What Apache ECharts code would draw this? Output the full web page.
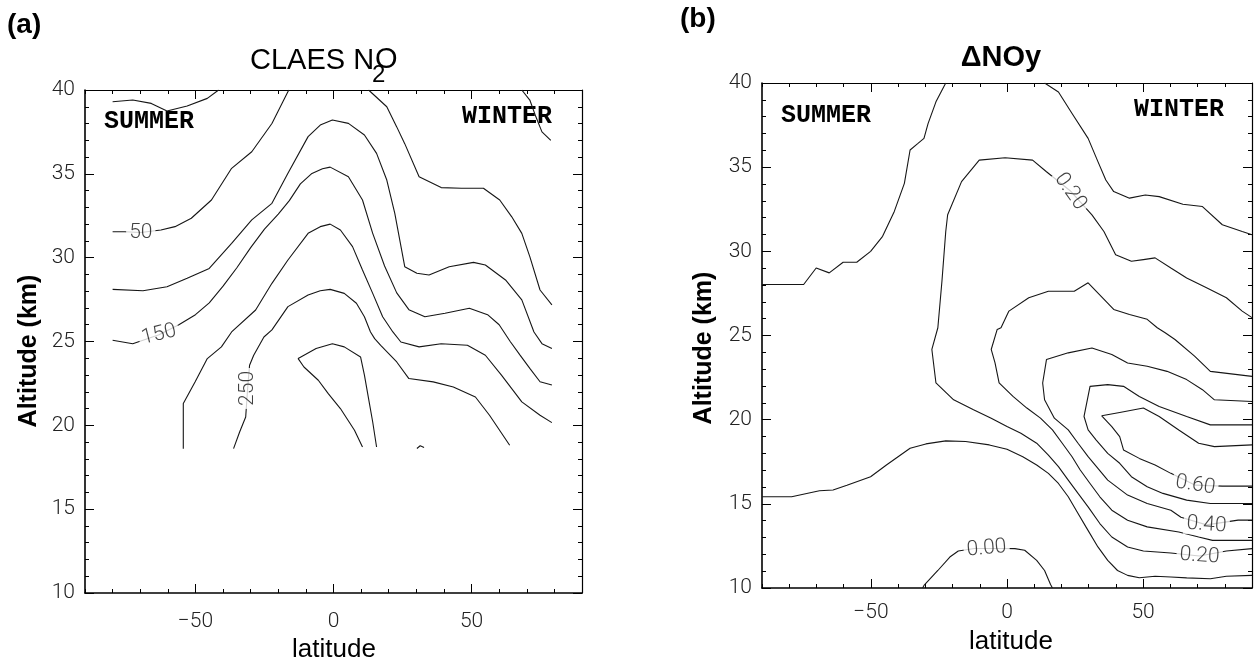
<!DOCTYPE html>
<html>
<head>
<meta charset="utf-8">
<script src="https://cdn.jsdelivr.net/npm/echarts@6/dist/echarts.min.js"></script>
<style>
html,body{margin:0;padding:0;background:#fff;}
#c{width:1259px;height:664px;}
</style>
</head>
<body>
<div id="c"></div>
<script>
// ---------- tick values ----------
const latMajor = [-50, 0, 50];
const altMajor = [10, 15, 20, 25, 30, 35, 40];

// ---------- panel (a): CLAES N2O contours [latitude, altitude km] ----------
const n2oTopLeft = [[-80,39.3],[-72.7,39.4],[-66,39.2],[-60.3,38.75],[-53,39.05],[-45.7,39.5],[-41.6,40]];
const n2oTopRight = [[68.2,40],[71.1,39.4],[73.3,38.4],[75.5,37.5],[78.7,37.0]];
const n2o50a = [[-80,31.55],[-75.6,31.55],[-69.8,31.5],[-62.5,31.65],[-57.4,31.85],[-51.5,32.35],[-44.2,33.44],[-36.9,35.33],[-29.6,36.32],[-22.3,38.0],[-16.2,40]];
const n2o50b = [[12.7,40],[19.3,39.0],[22.9,37.8],[25.8,36.8],[31.0,34.83],[39.0,34.18],[46.3,34.14],[54.3,34.14],[60.2,33.44],[64.5,32.45],[68.2,31.45],[71.1,30.06],[74.8,28.07],[79.1,27.18]];
const n2o100 = [[-80,28.11],[-69,28.03],[-60.3,28.27],[-53,28.77],[-45,29.36],[-36.9,30.85],[-29.6,32.25],[-22.3,33.24],[-16.5,35.03],[-9.2,37.22],[-4.8,37.91],[-0.4,38.21],[5.4,38.01],[11.2,37.32],[15.6,36.22],[19.3,34.63],[22.2,32.64],[25.8,29.46],[30.2,29.07],[34.6,28.97],[41.9,29.46],[50.7,29.72],[55.0,29.56],[62.3,28.67],[68.2,27.48],[72.6,25.57],[75.5,24.87],[79.1,24.58]];
const n2o150 = [[-80,25.07],[-72.7,24.87],[-63.2,25.4],[-56,26.0],[-50,26.6],[-45,27.3],[-40,28.3],[-35,29.4],[-30,30.6],[-25,31.7],[-20,32.6],[-16,33.4],[-12,34.4],[-8,35.0],[-4,35.3],[-1.2,35.4],[5.4,34.83],[10.5,33.44],[14.2,31.45],[18.5,29.5],[22.9,27.9],[27.3,26.9],[33.1,26.48],[40.4,26.68],[49.2,26.98],[55.8,26.6],[60,26.0],[64,25.0],[67.5,24.2],[71.1,23.4],[74.8,22.6],[79.1,22.4]];
const n2o200 = [[-54.4,18.61],[-54.4,21.3],[-50.1,22.6],[-45.7,23.98],[-40.6,24.68],[-36.9,25.57],[-28.2,26.88],[-22.3,28.47],[-16.5,29.86],[-9.2,31.45],[-4.8,31.85],[-1.2,32.0],[2.5,31.65],[6.9,30.66],[10.5,29.26],[14.2,27.87],[17.8,26.48],[21.5,25.57],[24.4,24.97],[31.0,24.68],[39.0,24.87],[48.5,24.78],[55.0,24.18],[60.9,22.98],[68.2,21.4],[74.8,20.6],[79.1,20.16]];
const n2o250 = [[-36.2,18.61],[-34,19.6],[-31.8,20.5],[-31.1,22.2],[-30.4,23.58],[-28.9,24.18],[-25.2,25.27],[-22.3,25.69],[-16.5,27.08],[-9.2,27.77],[-4.8,28.03],[-1.2,28.11],[3.9,27.87],[8.3,27.28],[11.2,26.48],[13.4,25.57],[14.9,25.17],[17.1,24.77],[22.9,23.78],[27.3,22.79],[36.1,22.59],[43.4,22.29],[51.4,21.69],[56.5,20.6],[63.8,18.81]];
const n2o300 = [[10.5,18.71],[7.6,19.71],[2.5,21.0],[-1.9,21.89],[-5.5,22.69],[-10.7,23.48],[-12.8,23.98],[-6.3,24.58],[-0.4,24.87],[3.9,24.68],[9.8,24.08],[11.2,22.99],[12.7,21.59],[14.2,20.2],[15.6,18.71]];
const n2oFragment = [[30.2,18.62],[31.4,18.78],[32.8,18.68]];
const n2oLabels = [['50',-69.8,31.5],['150',-63.2,25.4],['250',-31.1,22.2]];

// ---------- panel (b): delta NOy contours ----------
const noy000 = [[-31,10.0],[-30.5,10.15],[-25.4,11.04],[-21.0,11.84],[-17.9,12.2],[-12,12.35],[-7.5,12.35],[-2,12.35],[2.9,12.34],[6.5,12.24],[10.9,11.64],[13.8,11.04],[16.0,10.21],[16.7,10.0]];
const noy010up = [[-90,28.03],[-74.7,28.03],[-70.1,29.01],[-65.3,28.72],[-60.2,29.35],[-55.2,29.35],[-50.1,30.0],[-45.7,30.89],[-41.4,32.37],[-37.7,34.04],[-35.6,36.02],[-32.7,36.41],[-30.5,36.71],[-29.0,37.59],[-26.1,38.88],[-22.5,40]];
const noy010upR = [[13.8,40],[18.9,39.47],[23.9,38.19],[29.8,36.71],[33.4,35.33],[36.3,34.24],[39.2,33.55],[45.0,33.16],[50.8,33.35],[55.9,33.25],[64.6,32.8],[71.8,32.66],[79.1,31.58],[86.4,31.18],[90,30.99]];
const noy010low = [[-90,15.42],[-79.1,15.42],[-68.9,15.78],[-63.9,15.82],[-58.8,16.11],[-50.1,16.61],[-44.3,17.31],[-35.6,18.3],[-29.8,18.56],[-22.5,18.74],[-15.2,18.7],[-6.5,18.5],[0,18.24],[5.8,17.8],[10.9,17.31],[15.2,16.81],[18.9,16.21],[22.5,15.42],[25.4,14.62],[29.0,13.63],[33.4,12.44],[37.0,11.64],[40.6,11.04],[44.3,10.75],[48.6,10.61],[54.4,10.7],[60.2,10.65],[66.0,10.6],[74.7,10.55],[80.6,10.7],[90,10.75]];
const noy020 = [[90,26.06],[86.4,26.45],[80.6,27.24],[73.3,27.83],[66.0,28.42],[60.2,29.01],[54.4,29.61],[50.1,29.51],[45.7,29.41],[39.9,29.80],[35.6,31.18],[31.2,32.17],[23.2,33.6],[14.5,34.73],[9.4,35.42],[-0.7,35.56],[-10.2,35.42],[-16.7,34.14],[-21.8,32.17],[-22.5,31.18],[-23.9,28.22],[-25.4,25.46],[-27.6,24.17],[-26.1,22.18],[-19.6,21.18],[-12.3,20.59],[-5.8,20.09],[0,19.59],[5.1,19.19],[10.9,18.6],[15.2,17.9],[18.9,17.21],[22.5,16.41],[26.1,15.62],[29.8,14.82],[34.1,13.83],[38.5,13.03],[44.3,12.44],[50.1,12.2],[60.2,12.08],[70.7,11.9],[80.6,12.2],[90,12.34]];
const noy030 = [[90,12.83],[75.5,12.83],[70.4,13.03],[63.1,13.33],[51.5,13.63],[44.3,14.03],[38.5,14.62],[34.1,15.42],[30.5,16.21],[26.9,17.01],[23.9,17.8],[20.3,18.6],[16.7,19.39],[12.3,20.09],[7.3,20.69],[2.2,21.38],[-2.9,22.18],[-4.4,23.37],[-5.8,24.17],[-3.6,25.36],[-2.2,25.46],[0.7,26.45],[8.0,27.24],[15.2,27.63],[24.7,27.63],[29.8,28.13],[39.2,26.55],[45.0,26.25],[51.5,25.96],[55.2,25.46],[58.1,25.16],[61.7,24.76],[68.9,23.77],[74.7,22.87],[90,22.57]];
const noy040 = [[90,21.08],[76.2,21.18],[71.8,21.78],[66.0,22.38],[58.8,22.87],[51.5,23.17],[44.3,23.37],[38.5,23.87],[31.2,24.26],[22.5,23.97],[14.5,23.57],[13.1,22.18],[13.8,21.18],[17.4,20.09],[22.5,19.39],[26.1,18.6],[29.8,17.8],[33.4,17.11],[37.0,16.41],[44.3,15.52],[51.5,15.02],[60.2,14.62],[63.9,14.2],[73.3,13.75],[84.9,14.03],[90,14.03]];
const noy050 = [[90,19.69],[74.7,19.69],[66.0,20.19],[55.9,20.78],[48.6,21.38],[42.8,21.98],[37.0,22.08],[30.5,21.98],[28.3,20.19],[29.8,19.39],[32.7,18.8],[37.0,18.0],[41.4,17.41],[45.7,16.61],[51.5,16.01],[57.3,15.62],[66.0,15.22],[74.7,15.02],[90,15.02]];
const noy060 = [[90,18.5],[76.2,18.4],[70.4,18.6],[63.1,19.39],[55.9,20.19],[50.1,20.69],[41.4,20.43],[34.8,20.23],[38.5,19.59],[41.4,18.99],[42.8,18.2],[48.6,17.7],[54.4,17.31],[60.2,16.81],[69.2,16.11],[79.1,16.05],[90,16.05]];
const noyLabels = [['0.20',23.2,33.55],['0.60',69.2,16.11],['0.40',73.3,13.75],['0.20',70.7,11.9],['0.00',-7.5,12.35]];

// ---------- styling (not data) ----------
const n2oLabelRot = [0, 14, 90];
const noyLabelRot = [-55, -9, -4, -4, 5];
const LINE = {color:'#161616', width:1.1};
const tickFont = {fontFamily:'Roboto', fontWeight:300, fontSize:21, color:'#222'};

function fmtLat(v){ return v < 0 ? '\u2212' + (-v) : String(v); }

function xAxes(g, labelMargin){
  return [
    {gridIndex:g, type:'value', min:-90, max:90, interval:10, position:'bottom',
     axisLine:{show:true, onZero:false, lineStyle:{color:'#000', width:1.6}},
     axisTick:{show:true, inside:true, length:4, lineStyle:{color:'#000', width:1}},
     axisLabel:Object.assign({show:true, customValues:latMajor, formatter:fmtLat, margin:labelMargin}, tickFont),
     splitLine:{show:false}},
    {gridIndex:g, type:'value', min:-90, max:90, position:'bottom',
     axisLine:{show:false, onZero:false},
     axisTick:{show:true, inside:true, length:9, customValues:latMajor, lineStyle:{color:'#000', width:1}},
     axisLabel:{show:false}, splitLine:{show:false}},
    {gridIndex:g, type:'value', min:-90, max:90, interval:10, position:'top',
     axisLine:{show:true, onZero:false, lineStyle:{color:'#000', width:1.2}},
     axisTick:{show:true, inside:true, length:4, lineStyle:{color:'#000', width:1}},
     axisLabel:{show:false}, splitLine:{show:false}},
    {gridIndex:g, type:'value', min:-90, max:90, position:'top',
     axisLine:{show:false, onZero:false},
     axisTick:{show:true, inside:true, length:9, customValues:latMajor, lineStyle:{color:'#000', width:1}},
     axisLabel:{show:false}, splitLine:{show:false}}
  ];
}
function yAxes(g){
  return [
    {gridIndex:g, type:'value', min:10, max:40, interval:5, position:'left',
     axisLine:{show:true, onZero:false, lineStyle:{color:'#000', width:1.6}},
     axisTick:{show:true, inside:true, length:9, lineStyle:{color:'#000', width:1}},
     minorTick:{show:true, splitNumber:5, length:4, lineStyle:{color:'#000', width:1}},
     axisLabel:Object.assign({show:true, margin:10, customValues:altMajor}, tickFont),
     splitLine:{show:false}, minorSplitLine:{show:false}},
    {gridIndex:g, type:'value', min:10, max:40, interval:5, position:'right',
     axisLine:{show:true, onZero:false, lineStyle:{color:'#000', width:1.2}},
     axisTick:{show:true, inside:true, length:9, lineStyle:{color:'#000', width:1}},
     minorTick:{show:true, splitNumber:5, length:4, lineStyle:{color:'#000', width:1}},
     axisLabel:{show:false}, splitLine:{show:false}, minorSplitLine:{show:false}}
  ];
}

function lineSeries(data, xi, yi){
  return {type:'line', data:data, xAxisIndex:xi, yAxisIndex:yi, showSymbol:false, symbol:'none',
          lineStyle:LINE, silent:true, animation:false, z:2};
}
function labelSeries(list, rots, xi, yi){
  return {type:'scatter', xAxisIndex:xi, yAxisIndex:yi, symbolSize:2,
    itemStyle:{color:'rgba(255,255,255,0)'},
    silent:true, animation:false, z:5,
    labelLayout:{hideOverlap:false},
    data:list.map((l,i)=>({value:[l[1], l[2]], name:l[0],
      label:{show:true, position:'inside', formatter:l[0], rotate:rots[i],
             fontFamily:'Roboto', fontWeight:300, fontSize:21, color:'#111',
             backgroundColor:'#fff', padding:[0,3]}}))};
}

const series = [];
[n2oTopLeft, n2oTopRight, n2o50a, n2o50b, n2o100, n2o150, n2o200, n2o250, n2o300, n2oFragment]
  .forEach(d => series.push(lineSeries(d, 0, 0)));
series.push(labelSeries(n2oLabels, n2oLabelRot, 0, 0));
[noy000, noy010up, noy010upR, noy010low, noy020, noy030, noy040, noy050, noy060]
  .forEach(d => series.push(lineSeries(d, 4, 2)));
series.push(labelSeries(noyLabels, noyLabelRot, 4, 2));

function txt(x, y, text, font, opts){
  return Object.assign({type:'text', x:x, y:y, silent:true,
    style:{text:text, font:font, fill:'#000', align:'left', verticalAlign:'middle',
           textAlign:'left', textVerticalAlign:'middle'}}, opts || {});
}
function ctxt(x, y, text, font, rot){
  const e = txt(x, y, text, font, rot ? {rotation:rot} : null);
  e.style.align = 'center'; e.style.textAlign = 'center';
  return e;
}
const SANS = '"Liberation Sans", Arial, sans-serif';
const MONO = '"Liberation Mono", "Courier New", monospace';

const graphics = [
  txt(7, 25, '(a)', 'bold 28px ' + SANS),
  txt(680, 19, '(b)', 'bold 28px ' + SANS),
  txt(250, 61, 'CLAES N', '29px ' + SANS),
  txt(372, 75, '2', '24px ' + SANS),
  txt(375, 60, 'O', '29px ' + SANS),
  ctxt(1001, 58, '\u0394NOy', 'bold 29px ' + SANS),
  txt(104, 122, 'SUMMER', 'bold 25px ' + MONO),
  txt(462, 117, 'WINTER', 'bold 25px ' + MONO),
  txt(781, 116, 'SUMMER', 'bold 25px ' + MONO),
  txt(1134, 110, 'WINTER', 'bold 25px ' + MONO),
  ctxt(334, 650, 'latitude', '26px ' + SANS),
  ctxt(1011, 642, 'latitude', '26px ' + SANS),
  ctxt(29, 351, 'Altitude (km)', 'bold 25px ' + SANS, Math.PI/2),
  ctxt(704, 348, 'Altitude (km)', 'bold 25px ' + SANS, Math.PI/2)
];

const option = {
  backgroundColor:'#fff',
  animation:false,
  grid:[
    {left:85, top:90, width:497, height:503},
    {left:762, top:83, width:490, height:505}
  ],
  xAxis: xAxes(0, 18).concat(xAxes(1, 14)),
  yAxis: yAxes(0).concat(yAxes(1)),
  series: series,
  graphic: graphics
};
const chart = echarts.init(document.getElementById('c'), null, {renderer:'canvas'});
chart.setOption(option);
</script>
</body>
</html>
